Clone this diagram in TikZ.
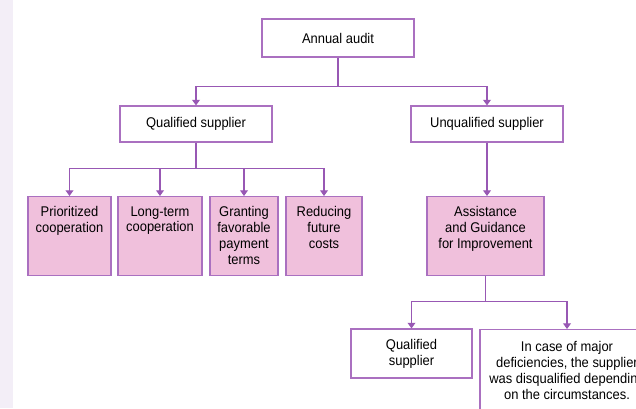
\documentclass[tikz,border=0pt]{standalone}
\usepackage{fontspec}
\setmainfont{Liberation Sans}[FakeStretch=0.92]
\usepackage{xcolor}
\usetikzlibrary{arrows.meta}

\definecolor{linepurple}{RGB}{152,88,180}
\definecolor{edgepurple}{RGB}{170,112,192}
\definecolor{boxpink}{RGB}{240,192,220}
\definecolor{stripbg}{RGB}{243,238,247}

\newlength{\pxlen}
\setlength{\pxlen}{0.025cm}
\newcommand{\toptext}[2]{\parbox[t][42pt][t]{#1\pxlen}{\centering #2}}

\begin{document}
\begin{tikzpicture}[x=0.025cm, y=-0.025cm, >={Triangle[width=5.5pt,length=4pt]},
	font=\fontsize{10}{11.3}\selectfont,
	plainbox/.style={draw=edgepurple, line width=0.8pt, fill=white, inner sep=0pt, align=center},
	pinkbox/.style={draw=edgepurple, line width=0.8pt, fill=boxpink, inner xsep=0pt, inner ysep=7pt, anchor=north},
	link/.style={draw=linepurple, line width=0.8pt}]
	% page and left strip
	\fill[white] (0,0) rectangle (636,408);
	\fill[stripbg] (0,0) rectangle (13,408);
	\clip (0,0) rectangle (636,408);
	% top level
	\node[plainbox, minimum width=152\pxlen, minimum height=38\pxlen] (audit) at (338,38) {Annual audit};
	\node[plainbox, minimum width=152\pxlen, minimum height=36\pxlen] (qual) at (196,124) {Qualified supplier};
	\node[plainbox, minimum width=152\pxlen, minimum height=36\pxlen] (unqual) at (487,124) {Unqualified supplier};
	% measures for qualified suppliers
	\node[pinkbox] (prior) at (69.5,196) {\toptext{83}{Prioritized\\cooperation}};
	\node[pinkbox] (longterm) at (160,196) {\toptext{84}{Long-term\\cooperation}};
	\node[pinkbox] (payment) at (244,196) {\toptext{68}{Granting\\favorable\\payment\\terms}};
	\node[pinkbox] (costs) at (324,196) {\toptext{76}{Reducing\\future\\costs}};
	% unqualified branch
	\node[pinkbox] (assist) at (485.5,196) {\toptext{117}{Assistance\\and Guidance\\for Improvement}};
	\node[plainbox, minimum width=121\pxlen, minimum height=49\pxlen] (qual2) at (411.5,353.5) {Qualified\\supplier};
	\node[plainbox, anchor=north, inner ysep=8.5pt] (disq) at (567,329)
	{\parbox[t][70pt][t]{174\pxlen}{\centering In case of major\\deficiencies, the supplier\\was disqualified depending\\on the circumstances.}};
	% connectors
	\draw[link] (audit.south) -- ++(0,29) coordinate (j1);
	\draw[link,->] (j1) -| (qual.north);
	\draw[link,->] (j1) -| (unqual.north);
	\draw[link] (qual.south) -- ++(0,26) coordinate (j2);
	\foreach \n in {prior,longterm,payment,costs}
	\draw[link,->] (j2) -| (\n.north);
	\draw[link,->] (unqual.south) -- (unqual.south |- assist.north);
	\draw[link] (assist.south) -- ++(0,26) coordinate (j3);
	\draw[link,->] (j3) -| (qual2.north);
	\draw[link,->] (j3) -| (disq.north);
\end{tikzpicture}
\end{document}
